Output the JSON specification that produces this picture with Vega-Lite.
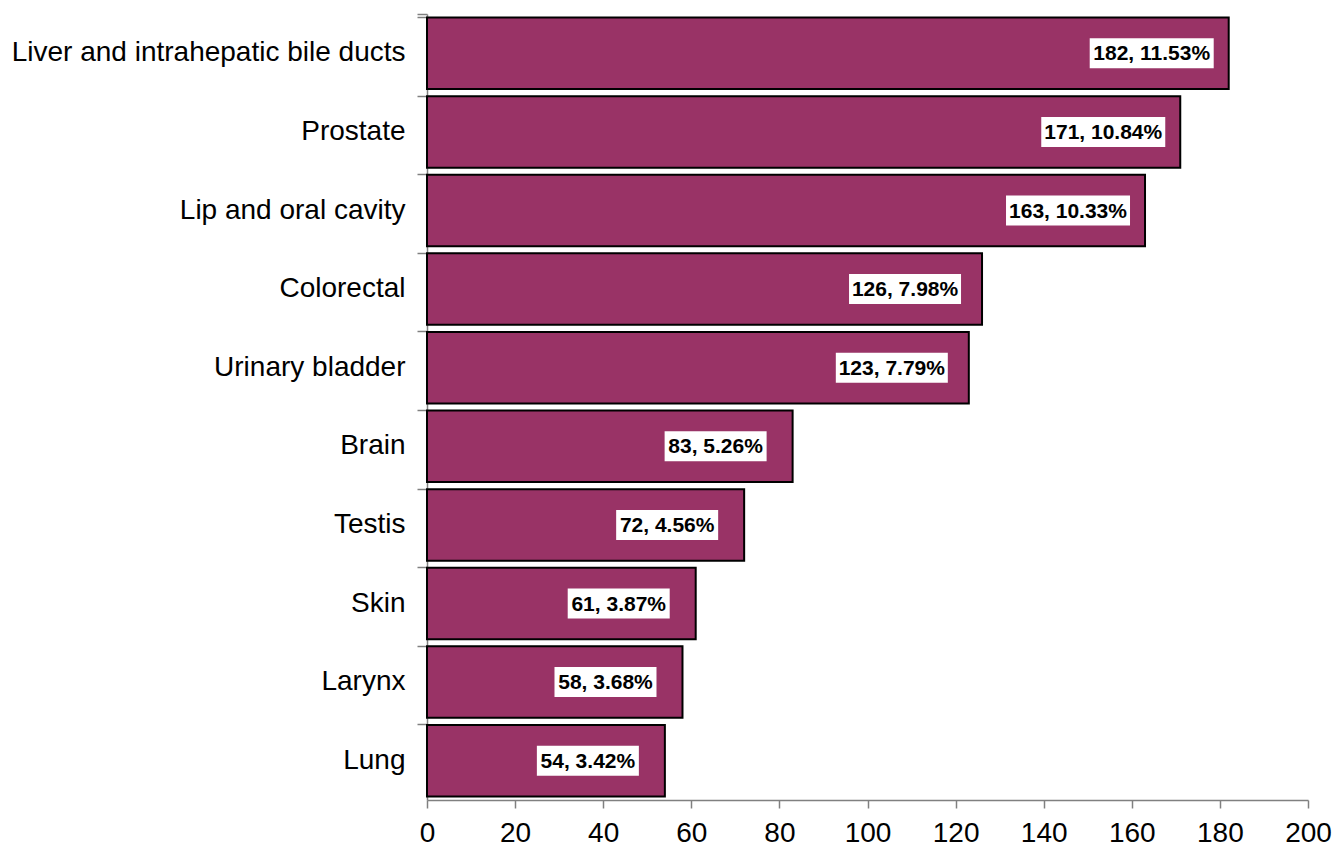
{
  "$schema": "https://vega.github.io/schema/vega-lite/v6.json",
  "width": 881,
  "height": 786,
  "autosize": "none",
  "padding": {"left": 427, "top": 14, "right": 26, "bottom": 56},
  "background": "white",
  "config": {"view": {"stroke": null}, "font": "Liberation Sans"},
  "data": {
    "values": [
      {"site": "Liver and intrahepatic bile ducts", "count": 182, "label": "182, 11.53%"},
      {"site": "Prostate", "count": 171, "label": "171, 10.84%"},
      {"site": "Lip and oral cavity", "count": 163, "label": "163, 10.33%"},
      {"site": "Colorectal", "count": 126, "label": "126, 7.98%"},
      {"site": "Urinary bladder", "count": 123, "label": "123, 7.79%"},
      {"site": "Brain", "count": 83, "label": "83, 5.26%"},
      {"site": "Testis", "count": 72, "label": "72, 4.56%"},
      {"site": "Skin", "count": 61, "label": "61, 3.87%"},
      {"site": "Larynx", "count": 58, "label": "58, 3.68%"},
      {"site": "Lung", "count": 54, "label": "54, 3.42%"}
    ]
  },
  "encoding": {
    "y": {
      "field": "site",
      "type": "nominal",
      "sort": null,
      "scale": {"paddingInner": 0.09, "paddingOuter": 0.045},
      "axis": {
        "title": null,
        "bandPosition": 0,
        "tickExtra": true,
        "tickSize": 10,
        "labelPadding": 12,
        "labelFontSize": 28,
        "labelColor": "black",
        "labelFont": "Liberation Sans",
        "domainColor": "#808080",
        "tickColor": "#808080",
        "domainWidth": 1.5,
        "tickWidth": 1.5,
        "labelLimit": 500
      }
    }
  },
  "layer": [
    {
      "mark": {"type": "bar", "fill": "#993366", "stroke": "black", "strokeWidth": 2},
      "encoding": {
        "x": {
          "field": "count",
          "type": "quantitative",
          "scale": {"domain": [0, 200], "nice": false},
          "axis": {
            "title": null,
            "values": [0, 20, 40, 60, 80, 100, 120, 140, 160, 180, 200],
            "grid": false,
            "tickSize": 8,
            "labelPadding": 11,
            "labelFontSize": 28,
            "labelColor": "black",
            "labelFont": "Liberation Sans",
            "domainColor": "#808080",
            "tickColor": "#808080",
            "domainWidth": 1.5,
            "tickWidth": 1.5,
            "labelFlush": false
          }
        }
      }
    },
    {
      "transform": [{"filter": "length(datum.label) == 11"}],
      "mark": {"type": "bar", "fill": "white", "height": 30, "xOffset": -139, "x2Offset": -15},
      "encoding": {
        "x": {"field": "count", "type": "quantitative"},
        "x2": {"field": "count"}
      }
    },
    {
      "transform": [{"filter": "length(datum.label) == 10"}],
      "mark": {"type": "bar", "fill": "white", "height": 30, "xOffset": -133, "x2Offset": -21},
      "encoding": {
        "x": {"field": "count", "type": "quantitative"},
        "x2": {"field": "count"}
      }
    },
    {
      "transform": [{"filter": "length(datum.label) == 9"}],
      "mark": {"type": "bar", "fill": "white", "height": 30, "xOffset": -128, "x2Offset": -26},
      "encoding": {
        "x": {"field": "count", "type": "quantitative"},
        "x2": {"field": "count"}
      }
    },
    {
      "mark": {"type": "text", "align": "center", "baseline": "middle", "dx": -77, "dy": 1, "fontSize": 21, "fontWeight": "bold", "font": "Liberation Sans", "color": "black"},
      "encoding": {
        "x": {"field": "count", "type": "quantitative"},
        "text": {"field": "label"}
      }
    }
  ]
}
